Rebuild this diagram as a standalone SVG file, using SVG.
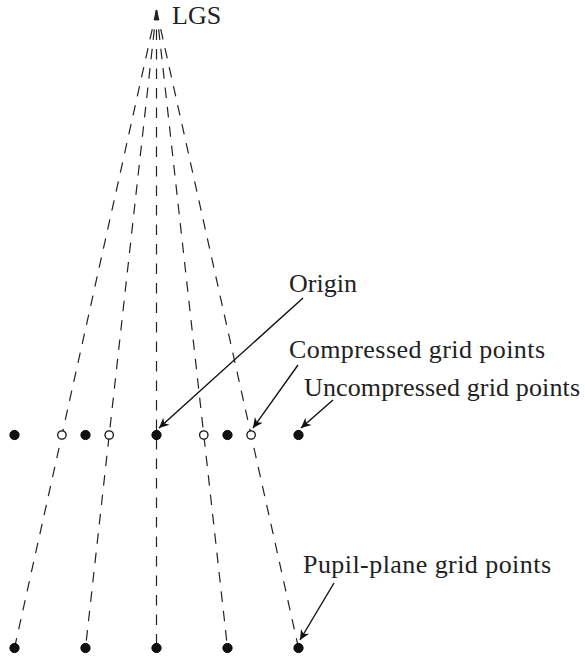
<svg xmlns="http://www.w3.org/2000/svg" width="585" height="656" viewBox="0 0 585 656">
<defs>
<style>
.lbl{font-family:"Liberation Serif","Times New Roman",serif;font-size:26px;fill:#222}
.ray{stroke:#222;stroke-width:1.2;stroke-dasharray:10.5 9;fill:none}
.ptr{stroke:#111;stroke-width:1.4;fill:none;marker-end:url(#ah)}
.dot{fill:#111;stroke:#000;stroke-width:1}
.open{fill:#fff;stroke:#111;stroke-width:1.3}
</style>
<marker id="ah" viewBox="-11 -6 13 12" markerWidth="13" markerHeight="12" refX="0" refY="0" orient="auto" markerUnits="userSpaceOnUse">
<path d="M0,0 L-10,-4.8 L-7,0 L-10,4.8 Z" fill="#111"/>
</marker>
</defs>
<g id="connectors">
<line class="ray" x1="156.5" y1="10" x2="14.5" y2="648"/>
<line class="ray" x1="156.5" y1="10" x2="85.5" y2="648"/>
<line class="ray" x1="156.5" y1="10" x2="156.5" y2="648"/>
<line class="ray" x1="156.5" y1="10" x2="227.5" y2="648"/>
<line class="ray" x1="156.5" y1="10" x2="298.5" y2="648"/>
<line class="ptr" x1="303" y1="298" x2="159" y2="428"/>
<line class="ptr" x1="298" y1="365" x2="253" y2="428"/>
<line class="ptr" x1="333" y1="400" x2="301" y2="428"/>
<line class="ptr" x1="334" y1="583" x2="300" y2="640"/>
</g>
<g id="lgs"><text class="lbl" x="172" y="24">LGS</text></g>
<g id="compressed-points">
<circle class="open" cx="61.9" cy="435" r="4.2"/>
<circle class="open" cx="109.2" cy="435" r="4.2"/>
<circle class="open" cx="203.8" cy="435" r="4.2"/>
<circle class="open" cx="251.1" cy="435" r="4.2"/>
</g>
<g id="uncompressed-points">
<circle class="dot" cx="14.5" cy="435" r="4.6"/>
<circle class="dot" cx="85.5" cy="435" r="4.6"/>
<circle class="dot" cx="156.5" cy="435" r="4.6"/>
<circle class="dot" cx="227.5" cy="435" r="4.6"/>
<circle class="dot" cx="298.5" cy="435" r="4.6"/>
</g>
<g id="pupil-points">
<circle class="dot" cx="14.5" cy="648" r="4.6"/>
<circle class="dot" cx="85.5" cy="648" r="4.6"/>
<circle class="dot" cx="156.5" cy="648" r="4.6"/>
<circle class="dot" cx="227.5" cy="648" r="4.6"/>
<circle class="dot" cx="298.5" cy="648" r="4.6"/>
</g>
<g id="label-origin"><text class="lbl" x="289" y="292">Origin</text></g>
<g id="label-compressed"><text class="lbl" x="289" y="358" textLength="256" lengthAdjust="spacing">Compressed grid points</text></g>
<g id="label-uncompressed"><text class="lbl" x="304" y="396" textLength="276" lengthAdjust="spacing">Uncompressed grid points</text></g>
<g id="label-pupil"><text class="lbl" x="303" y="573" textLength="248" lengthAdjust="spacing">Pupil-plane grid points</text></g>
</svg>
